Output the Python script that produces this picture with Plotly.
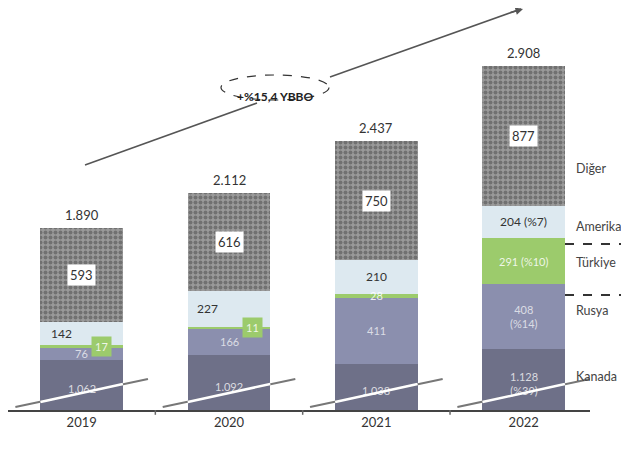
import plotly.graph_objects as go

years = ["2019", "2020", "2021", "2022"]
kanada = [1062, 1092, 1038, 1128]
rusya = [76, 166, 411, 408]
turkiye = [17, 11, 28, 291]
amerika = [142, 227, 210, 204]
diger = [593, 616, 750, 877]

kanada_lbl = ["1.062", "1.092", "1.038", "1.128<br>(%39)"]
rusya_lbl = ["76", "166", "411", "408<br>(%14)"]
turkiye_lbl = ["17", "11", "28", "291 (%10)"]
amerika_lbl = ["142", "227", "210", "204 (%7)"]
diger_lbl = ["593", "616", "750", "877"]
cagr_text = "+%15,4 YBBO"
side_labels = ["Diğer", "Amerika", "Türkiye", "Rusya", "Kanada"]

Y0, Y1 = 746, 3260   # broken axis: lower part of Kanada is cut
FONT = "Lato"
GREEN = "#9ccb6c"

fig = go.Figure()
series = [
    ("Kanada", kanada, "#6e7088", None),
    ("Rusya", rusya, "#8b8fae", None),
    ("Türkiye", turkiye, GREEN, None),
    ("Amerika", amerika, "#dde9f0", None),
    ("Diğer", diger, "#9a9a9a", dict(shape=".", fgcolor="#474747", size=5, solidity=0.5)),
]
xi = list(range(len(years)))
for name, vals, col, pat in series:
    mk = dict(color=col, line=dict(width=0))
    if pat:
        mk["pattern"] = pat
    fig.add_trace(go.Bar(x=xi, y=vals, name=name, marker=mk, showlegend=False,
                         hoverinfo="skip"))

ann = []
def fmt(n):
    return f"{n:,}".replace(",", ".")

am_shift = [-20, -22, 0, 0]
tr_shift = [20, 23, 0, 0]
for i in xi:
    b0 = 0
    bases = []
    for vals in (kanada, rusya, turkiye, amerika, diger):
        bases.append(b0)
        b0 += vals[i]
    total = b0
    ann.append(dict(x=i, y=total, text=fmt(total), showarrow=False, yanchor="bottom",
                    yshift=3, font=dict(family=FONT, size=13, color="#333")))
    lo = max(bases[0], Y0)
    ann.append(dict(x=i, y=(lo + bases[1]) / 2, text=kanada_lbl[i], showarrow=False,
                    yshift=-4, font=dict(family=FONT, size=11, color="rgba(255,255,255,0.75)")))
    ann.append(dict(x=i, y=bases[1] + rusya[i] / 2, text=rusya_lbl[i], showarrow=False,
                    font=dict(family=FONT, size=11, color="rgba(255,255,255,0.7)")))
    tdict = dict(x=i, y=bases[2] + turkiye[i] / 2, text=turkiye_lbl[i], showarrow=False,
                 xshift=tr_shift[i],
                 font=dict(family=FONT, size=11, color="rgba(255,255,255,0.85)"))
    if i < 2:
        tdict.update(bgcolor=GREEN, borderpad=3)
    ann.append(tdict)
    ann.append(dict(x=i, y=bases[3] + amerika[i] / 2, text=amerika_lbl[i], showarrow=False,
                    xshift=am_shift[i],
                    font=dict(family=FONT, size=12, color="#333")))
    ann.append(dict(x=i, y=bases[4] + diger[i] / 2, text=diger_lbl[i], showarrow=False,
                    bgcolor="white", borderpad=2,
                    font=dict(family=FONT, size=13, color="#333")))

# geometry helpers (screen px -> paper fraction); plot area spans x 8..590, y 10..410 on screen
W, H, L, B = 582, 400, 8, 410
def px(x): return (x - L) / W
def py(y): return (B - y) / H

side_y = [168, 226, 262, 320, 386]
for t, yy in zip(side_labels, side_y):
    ann.append(dict(x=px(574), y=py(yy), xref="paper", yref="paper", text=t, showarrow=False,
                    xanchor="left", font=dict(family=FONT, size=12.5, color="#444")))

ann.append(dict(x=px(523), y=py(8), xref="paper", yref="paper", ax=-14, ay=5,
                showarrow=True, arrowhead=2, arrowsize=1, arrowwidth=1.5, arrowcolor="#555",
                text=""))
ann.append(dict(x=px(275), y=py(87.5), xref="paper", yref="paper", text="<b>" + cagr_text + "</b>",
                showarrow=False, font=dict(family=FONT, size=12, color="#222")))

shapes = []
# growth arrow, interrupted by the CAGR ellipse
shapes.append(dict(type="line", xref="paper", yref="paper", x0=px(85), y0=py(165),
                   x1=px(257), y1=py(103), line=dict(color="#555", width=1.5)))
shapes.append(dict(type="line", xref="paper", yref="paper", x0=px(330), y0=py(77),
                   x1=px(521), y1=py(9), line=dict(color="#555", width=1.5)))
shapes.append(dict(type="circle", xref="paper", yref="paper", x0=px(221), x1=px(329),
                   y0=py(100), y1=py(75), fillcolor="white",
                   line=dict(color="#333", width=1.2, dash="dash")))
for i in xi:
    shapes.append(dict(type="line", xref="x", yref="paper", x0=i - 0.45, x1=i + 0.45,
                       y0=py(407), y1=py(379), line=dict(color="#777", width=2)))
    shapes.append(dict(type="line", xref="x", yref="paper", x0=i - 0.28, x1=i + 0.28,
                       y0=py(402), y1=py(384), line=dict(color="white", width=2.5)))
for yy in (244, 295):
    shapes.append(dict(type="line", xref="paper", yref="paper", x0=px(565), x1=px(629),
                       y0=py(yy), y1=py(yy), line=dict(color="#333", width=2, dash="dash")))
for k in (0.5, 1.5, 2.5):
    shapes.append(dict(type="line", xref="x", yref="paper", x0=k, x1=k, y0=0, y1=-0.012,
                       line=dict(color="#666", width=1.5)))

# page body has an 8px margin, so margins are offset to place the plot area on screen
fig.update_layout(
    barmode="stack", bargap=0.44,
    width=629, height=454,
    margin=dict(l=0, r=47, t=2, b=52),
    paper_bgcolor="white", plot_bgcolor="white",
    annotations=ann, shapes=shapes,
    xaxis=dict(range=[-0.5, 3.45], showline=True, linecolor="#444", linewidth=1.5,
               tickmode="array", tickvals=xi, ticktext=years,
               ticks="", showgrid=False, zeroline=False,
               tickfont=dict(family=FONT, size=13, color="#333")),
    yaxis=dict(range=[Y0, Y1], visible=False, showgrid=False),
)

fig.write_html("out.html")
